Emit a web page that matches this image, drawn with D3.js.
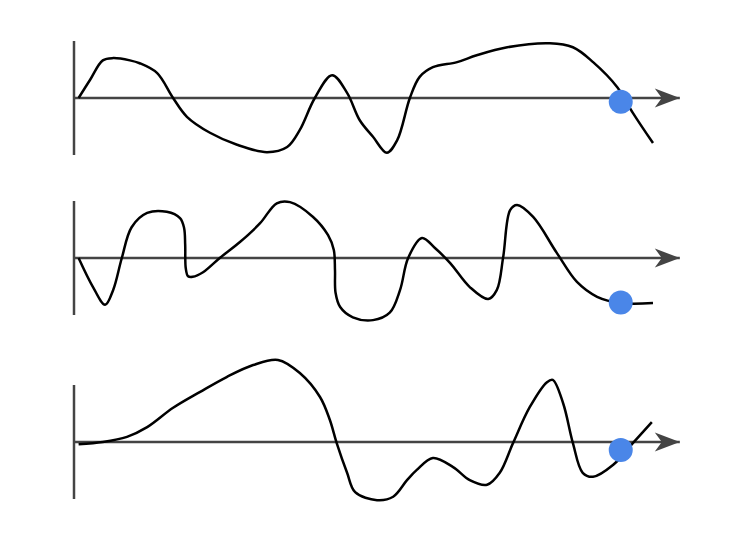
<!DOCTYPE html>
<html lang="en">
<head>
    <meta charset="UTF-8">
    <title>Three signals</title>
    <script src="https://d3js.org/d3.v7.min.js"></script>
    <style>
        body { margin: 0; background: #fff; }
    </style>
</head>
<body>
    <svg></svg>

    <script>
        const width = 751, height = 541;

        // series 1
        const x1 = [0.3, 2.3, 4.5, 6.3, 9.2, 10.9, 13.9, 16.7, 19.1, 23.1, 27.8, 33.0, 36.5, 38.7, 41.3, 44.3, 46.9, 49.1, 51.4, 53.8, 55.6, 57.8, 59.5, 61.8, 66.0, 69.4, 74.7, 82.1, 86.1, 89.6, 93.8, 96.5, 100];
        const y1 = [0, 0.32, 0.66, 0.70, 0.66, 0.61, 0.44, 0, -0.33, -0.61, -0.82, -0.95, -0.86, -0.56, 0, 0.40, 0.09, -0.39, -0.68, -0.96, -0.74, 0, 0.37, 0.54, 0.63, 0.75, 0.89, 0.96, 0.89, 0.63, 0.19, -0.26, -0.79];

        // series 2
        const x2 = [0.3, 2.8, 4.9, 6.3, 7.8, 9.5, 12.2, 15.6, 17.9, 18.6, 18.8, 18.9, 19.3, 20.1, 21.9, 24.8, 28.3, 31.8, 34.7, 37.0, 41.0, 43.6, 44.6, 44.8, 44.9, 45.7, 47.9, 51.4, 54.3, 56.1, 57.5, 59.9, 62.2, 64.8, 68.2, 71.4, 72.9, 74.0, 75.2, 76.4, 79.2, 83.3, 86.8, 90.3, 94.4, 100];
        const y2 = [0, -0.51, -0.82, -0.56, 0, 0.54, 0.79, 0.81, 0.70, 0.53, 0.23, -0.18, -0.32, -0.33, -0.25, 0, 0.28, 0.61, 0.96, 0.98, 0.72, 0.40, 0.14, -0.21, -0.61, -0.86, -1.04, -1.09, -0.96, -0.56, 0, 0.35, 0.17, -0.09, -0.51, -0.72, -0.56, 0.02, 0.84, 0.93, 0.72, 0.09, -0.42, -0.68, -0.79, -0.79];

        // series 3
        const x3 = [0.3, 4.5, 8.7, 12.2, 16.7, 21.4, 26.0, 30.6, 34.9, 38.7, 42.2, 43.9, 45.1, 46.9, 48.3, 52.1, 54.9, 57.3, 59.0, 61.8, 65.3, 68.2, 71.2, 73.4, 75.7, 78.6, 81.6, 82.6, 84.4, 86.1, 87.8, 89.6, 93.1, 96.5, 99.8];
        const y3 = [-0.04, 0, 0.09, 0.26, 0.60, 0.88, 1.14, 1.35, 1.44, 1.21, 0.79, 0.39, -0.02, -0.54, -0.88, -1.02, -0.96, -0.67, -0.49, -0.28, -0.44, -0.67, -0.75, -0.54, -0.02, 0.61, 1.05, 1.09, 0.68, -0.02, -0.54, -0.61, -0.40, -0.02, 0.35];

        // highlighted point on each series
        const dotX = [94.4, 94.4, 94.4];
        const dotY = [-0.065, -0.78, -0.14];

        const panelCenters = [98, 258, 442];
        const axisXMin = -0.5, axisXMax = 105;

        const series = [
            { x: x1, y: y1 },
            { x: x2, y: y2 },
            { x: x3, y: y3 }
        ];

        const svg = d3.select("svg")
            .attr("width", width)
            .attr("height", height);

        const x_scale = d3.scaleLinear().domain([-0.5, 100]).range([74, 653]);

        svg.append("defs").append("marker")
            .attr("id", "arrow")
            .attr("markerUnits", "userSpaceOnUse")
            .attr("viewBox", "-26 -10 27 20")
            .attr("refX", 0)
            .attr("refY", 0)
            .attr("markerWidth", 27)
            .attr("markerHeight", 20)
            .attr("orient", "auto")
            .append("path")
            .attr("d", "M-25,-9.5L0,0L-25,9.5L-18,0Z")
            .attr("fill", "#444");

        series.forEach((s, i) => {
            const c = panelCenters[i];
            const y_scale = d3.scaleLinear().domain([-1, 1]).range([c + 57, c - 57]);
            const g = svg.append("g");

            // vertical axis
            g.append("line")
                .attr("x1", x_scale(axisXMin)).attr("x2", x_scale(axisXMin))
                .attr("y1", y_scale(-1)).attr("y2", y_scale(1))
                .attr("stroke", "#444")
                .attr("stroke-width", 2.5);

            // horizontal axis with arrow
            g.append("line")
                .attr("x1", x_scale(axisXMin) - 1).attr("x2", x_scale(axisXMax) - 2)
                .attr("y1", y_scale(0)).attr("y2", y_scale(0))
                .attr("stroke", "#444")
                .attr("stroke-width", 2.5)
                .attr("marker-end", "url(#arrow)");

            const pts = s.x.map((d, j) => [d, s.y[j]]);
            const line = d3.line()
                .x(d => x_scale(d[0]))
                .y(d => y_scale(d[1]))
                .curve(d3.curveCatmullRom.alpha(0.5));

            g.append("path")
                .datum(pts)
                .attr("d", line)
                .attr("fill", "none")
                .attr("stroke", "#000")
                .attr("stroke-width", 2.5);

            g.append("circle")
                .attr("cx", x_scale(dotX[i]))
                .attr("cy", y_scale(dotY[i]))
                .attr("r", 12)
                .attr("fill", "#4a86e8");
        });
    </script>
</body>
</html>
